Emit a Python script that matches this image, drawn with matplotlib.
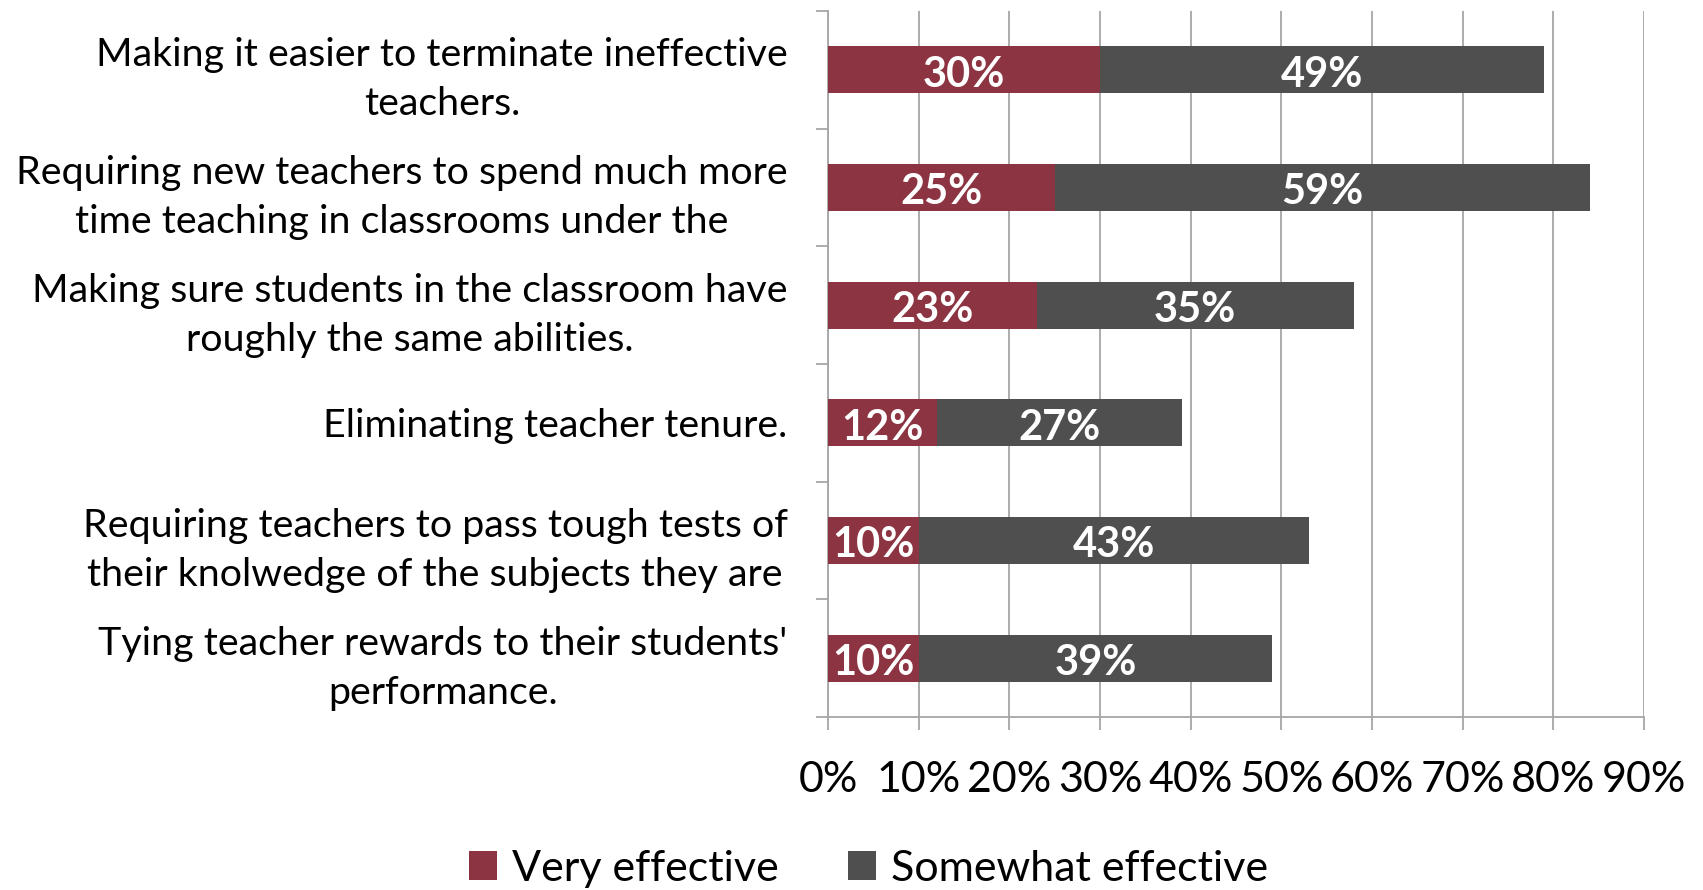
import matplotlib.pyplot as plt
import numpy as np

plt.rcParams['font.family'] = ['Lato', 'DejaVu Sans']

labels = [
    "Making it easier to terminate ineffective\nteachers.",
    "Requiring new teachers to spend much more\ntime teaching in classrooms under the",
    "Making sure students in the classroom have\nroughly the same abilities.",
    "Eliminating teacher tenure.",
    "Requiring teachers to pass tough tests of\ntheir knolwedge of the subjects they are",
    "Tying teacher rewards to their students'\nperformance.",
]
very = [30, 25, 23, 12, 10, 10]
somewhat = [49, 59, 35, 27, 43, 39]
series_names = ["Very effective", "Somewhat effective"]
xticks = [0, 10, 20, 30, 40, 50, 60, 70, 80, 90]

red = "#8C3441"
gray = "#4F4F4F"
grid_c = "#A6A6A6"

fig = plt.figure(figsize=(17.03, 8.90), dpi=100)
ax = fig.add_axes([0.4862, 0.1944, 0.9654 - 0.4862, 0.9876 - 0.1944])

y = np.arange(len(labels))
very = np.array(very)
somewhat = np.array(somewhat)
h = 0.4
b1 = ax.barh(y, very, height=h, color=red, label=series_names[0], zorder=3)
b2 = ax.barh(y, somewhat, left=very, height=h, color=gray, label=series_names[1], zorder=3)

for bars, vals in ((b1, very), (b2, somewhat)):
    for r, v in zip(bars, vals):
        cx = r.get_x() + r.get_width() / 2
        cy = r.get_y() + r.get_height() / 2 + 0.04
        ax.text(cx, cy, f"{v}%", ha='center', va='center', color='white',
                fontsize=30, fontweight='bold', zorder=4)

ax.set_xlim(0, 90)
ax.set_ylim(len(labels) - 0.5, -0.5)
ax.set_xticks(xticks)
ax.set_xticklabels([f"{t}%" for t in xticks], fontsize=31)
ax.set_yticks(y)
ax.set_yticklabels(labels, fontsize=28.4, linespacing=1.45, multialignment='center')
ax.set_yticks(np.arange(len(labels) + 1) - 0.5, minor=True)

ax.tick_params(axis='y', which='major', length=0, pad=29)
ax.tick_params(axis='y', which='minor', length=9, color=grid_c, width=1.3)
ax.tick_params(axis='x', length=9, color=grid_c, width=1.3, pad=23)
ax.grid(axis='x', color=grid_c, linewidth=1.3, zorder=0)

for s in ['top', 'right']:
    ax.spines[s].set_visible(False)
for s in ['left', 'bottom']:
    ax.spines[s].set_color(grid_c)
    ax.spines[s].set_linewidth(1.3)

fig.legend(handles=[b1, b2], loc='upper center', bbox_to_anchor=(0.51, 0.079), ncol=2,
           frameon=False, fontsize=31, handlelength=0.65, handleheight=0.65,
           columnspacing=1.6, handletextpad=0.35, borderpad=0.2)

fig.savefig("out.png", dpi=100)
